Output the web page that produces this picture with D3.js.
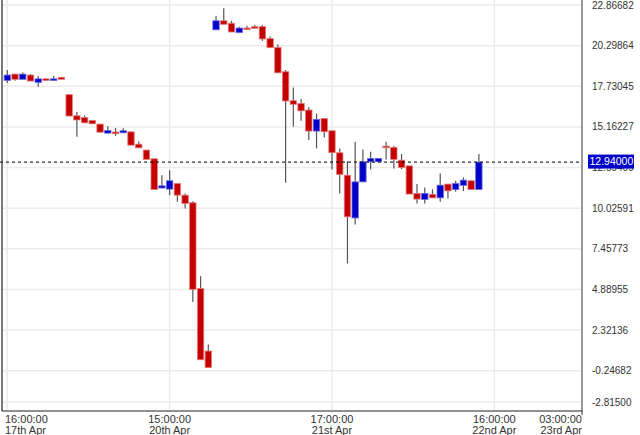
<!DOCTYPE html>
<html>
<head>
<meta charset="utf-8">
<script src="https://cdn.jsdelivr.net/npm/d3@7"></script>
<style>
  body { margin: 0; background: #fff; }
  text { font-family: "Liberation Sans", Arial, sans-serif; fill: #333; }
</style>
</head>
<body>
<div id="chart"></div>
<script>
// candle values (one per hourly bar)
const opens  = [18.10,18.50,18.17,18.44,17.98,18.20,18.10,18.30,17.20,15.87,15.76,15.57,15.34,14.77,14.84,14.79,14.85,14.07,13.70,13.15,
                11.30,11.23,11.59,10.85,10.37,4.95,1.00,21.30,21.87,21.71,21.12,21.41,21.50,21.50,20.74,20.19,18.65,16.82,16.65,16.23,
                14.90,15.70,14.92,13.53,12.11,9.41,11.69,12.96,12.96,13.95,13.87,13.06,12.70,10.96,10.58,10.90,10.68,11.55,11.21,11.47,
                11.76,11.21];
const highs  = [18.76,18.52,18.60,18.50,18.38,18.22,18.38,18.32,17.22,16.10,15.89,15.57,15.34,15.21,15.10,15.08,14.85,14.24,13.70,13.15,
                12.11,12.43,11.59,10.96,10.47,5.73,1.42,22.17,22.66,21.87,21.50,21.55,21.60,21.60,20.87,20.38,18.76,17.66,16.92,16.40,
                16.00,15.70,14.92,13.80,13.00,14.23,13.74,13.59,13.17,14.23,13.95,13.45,12.70,11.55,11.34,11.23,12.22,11.55,11.76,11.97,
                11.76,13.45];
const lows   = [17.93,18.08,18.17,18.06,17.70,18.10,18.10,18.17,15.85,14.54,15.42,15.36,14.83,14.75,14.60,14.79,14.01,13.84,13.11,11.21,
                11.30,10.85,10.43,10.01,4.10,0.45,-0.05,21.30,21.65,21.16,21.12,21.33,21.40,20.60,20.17,18.58,11.63,15.17,15.55,14.33,
                13.80,14.49,12.47,10.96,6.53,8.99,11.69,12.47,12.96,13.11,12.54,12.50,10.92,10.32,10.32,10.68,10.43,10.64,11.06,11.10,
                11.21,11.21];
const closes = [18.44,18.17,18.50,18.06,18.20,18.10,18.20,18.17,15.85,15.60,15.42,15.36,14.83,14.94,14.73,14.92,14.01,13.84,13.11,11.21,
                11.44,11.76,10.85,10.32,4.90,0.45,-0.05,21.87,21.65,21.16,21.41,21.33,21.40,20.72,20.17,18.58,16.80,16.59,16.18,14.90,
                15.64,14.86,13.53,12.16,9.48,11.69,12.96,13.17,13.17,13.85,13.11,12.60,10.92,10.60,10.96,10.68,11.48,11.12,11.59,11.80,
                11.21,12.94];

const lastPrice = 12.94;

// price axis ticks
const yTicks = [22.86682,20.29864,17.73045,15.16227,12.59409,10.02591,7.45773,4.88955,2.32136,-0.24682,-2.81500];

// time axis: bar index, time line, date line
const xTickIndex = [0,21,42,63,74.34];
const xTickTimes = ["16:00:00","15:00:00","17:00:00","16:00:00","03:00:00"];
const xTickDates = ["17th Apr","20th Apr","21st Apr","22nd Apr","23rd Apr"];

const width = 640, height = 435;
const plotLeft = 2, plotRight = 582, plotTop = 0, plotBottom = 411;

const svg = d3.select("#chart").append("svg")
    .attr("width", width)
    .attr("height", height);

const x = d3.scaleLinear().domain([-0.686, 74.34]).range([plotLeft, plotRight]);
const y = d3.scaleLinear().domain([-2.815, 22.86682]).range([411.4, 5]);

// horizontal grid (bottom one is pulled up above the axis)
const gy = v => Math.min(y(v), 402);
svg.append("g").selectAll("line")
    .data(yTicks)
    .join("line")
    .attr("x1", plotLeft).attr("x2", plotRight)
    .attr("y1", d => gy(d)).attr("y2", d => gy(d))
    .attr("stroke", "#ebebeb")
    .attr("stroke-width", 1.5);

// vertical grid
svg.append("g").selectAll("line")
    .data(xTickIndex.slice(0, 4))
    .join("line")
    .attr("x1", d => x(d)).attr("x2", d => x(d))
    .attr("y1", plotTop).attr("y2", plotBottom)
    .attr("stroke", "#ebebeb")
    .attr("stroke-width", 1.5);

// candles
const idx = d3.range(opens.length);
const bodyW = 6.4;

svg.append("g").selectAll("line")
    .data(idx)
    .join("line")
    .attr("x1", i => x(i)).attr("x2", i => x(i))
    .attr("y1", i => y(highs[i])).attr("y2", i => y(lows[i]))
    .attr("stroke", "#555")
    .attr("stroke-width", 1.2);

svg.append("g").selectAll("rect")
    .data(idx)
    .join("rect")
    .attr("x", i => x(i) - bodyW / 2)
    .attr("width", bodyW)
    .attr("y", i => y(Math.max(opens[i], closes[i])))
    .attr("height", i => Math.max(1.6, Math.abs(y(opens[i]) - y(closes[i]))))
    .attr("fill", i => closes[i] >= opens[i] ? "#0000c8" : "#c40000")
    .attr("stroke", i => closes[i] >= opens[i] ? "#6a6ae6" : "#e67a7a")
    .attr("stroke-width", 0.8);

// last price line
svg.append("line")
    .attr("x1", 0).attr("x2", plotRight)
    .attr("y1", y(lastPrice)).attr("y2", y(lastPrice))
    .attr("stroke", "#000")
    .attr("stroke-width", 1)
    .attr("stroke-dasharray", "3,3");

// axis frame
svg.append("line").attr("x1", plotLeft).attr("x2", plotLeft).attr("y1", 0).attr("y2", plotBottom)
    .attr("stroke", "#222").attr("stroke-width", 1.2);
svg.append("line").attr("x1", plotLeft).attr("x2", plotRight + 1).attr("y1", plotBottom).attr("y2", plotBottom)
    .attr("stroke", "#222").attr("stroke-width", 1.2);
svg.append("line").attr("x1", plotRight).attr("x2", plotRight).attr("y1", 0).attr("y2", plotBottom + 4)
    .attr("stroke", "#555").attr("stroke-width", 1.2);

// price labels
svg.append("g").selectAll("text")
    .data(yTicks)
    .join("text")
    .attr("x", 592)
    .attr("y", d => gy(d))
    .attr("dy", "0.35em")
    .attr("font-size", 10)
    .text(d => d.toFixed(5));

// last price tag (sits over the 12.59409 label, as in the original)
const tag = svg.append("g");
tag.append("rect")
    .attr("x", 588).attr("y", y(lastPrice) - 7.5)
    .attr("width", 46).attr("height", 14)
    .attr("fill", "#0000c8");
tag.append("text")
    .attr("x", 589.5).attr("y", y(lastPrice) - 0.5)
    .attr("dy", "0.36em")
    .attr("font-size", 10.5)
    .style("fill", "#fff")
    .text(lastPrice.toFixed(5));

// time labels
const anchor = (i) => i === 0 ? "start" : (i === xTickIndex.length - 1 ? "end" : "middle");
const tx = (d, i) => i === 0 ? 5 : x(d);
const xl = svg.append("g").selectAll("g")
    .data(xTickIndex)
    .join("g");
xl.append("text")
    .attr("x", tx).attr("y", 423)
    .attr("text-anchor", (d, i) => anchor(i))
    .attr("font-size", 11)
    .text((d, i) => xTickTimes[i]);
xl.append("text")
    .attr("x", tx).attr("y", 434)
    .attr("text-anchor", (d, i) => anchor(i))
    .attr("font-size", 11)
    .text((d, i) => xTickDates[i]);
</script>
</body>
</html>
